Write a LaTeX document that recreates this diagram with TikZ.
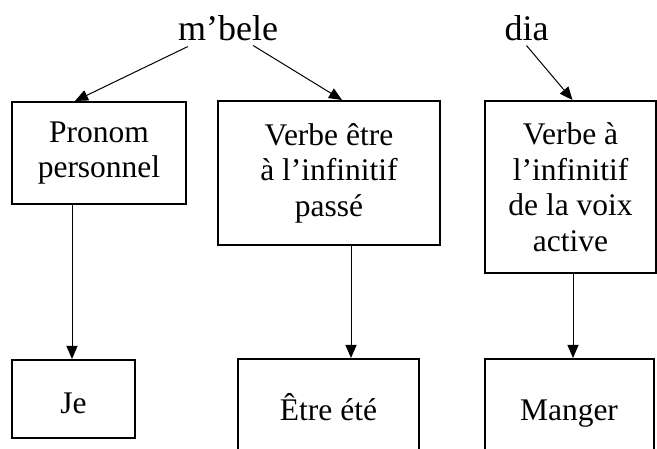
\documentclass[tikz,border=0pt]{standalone}
\usepackage{fontspec}
\setmainfont{Liberation Serif}
\usetikzlibrary{arrows.meta}
\begin{document}
\begin{tikzpicture}[x=1pt,y=-1pt,
 box/.style={draw,line width=2pt,align=center,inner sep=0pt,font=\fontsize{31.5}{35.5}\selectfont},
 single/.style={text height=29pt,text depth=0pt},
 word/.style={inner sep=0pt,font=\fontsize{36}{40}\selectfont},
 arr/.style={line width=1pt,-{Triangle[length=13pt,width=11pt]}}]
\useasboundingbox (0,0) rectangle (657,449);
\clip (0,0) rectangle (657,449);
\node[word,anchor=base] (mbele) at (228,41) {m’bele};
\node[word,anchor=base] (dia) at (526.5,41) {dia};
\node[box,minimum width=174pt,minimum height=102pt] (b1) at (99,153) {Pronom\\personnel};
\node[box,minimum width=222pt,minimum height=144pt] (b2) at (329,173) {Verbe être\\à l’infinitif\\passé};
\node[box,minimum width=171pt,minimum height=172pt] (b3) at (570.5,187) {Verbe à\\l’infinitif\\de la voix\\active};
\node[box,single,minimum width=123pt,minimum height=78pt] (c1) at (73.5,399) {Je};
\node[box,single,minimum width=181pt,minimum height=94pt] (c2) at (328.5,406) {Être été};
\node[box,single,minimum width=169pt,minimum height=94pt] (c3) at (569,406) {Manger};
\draw[arr] ([shift={(10,5)}]mbele.south west) -- ([xshift=-24pt]b1.north);
\draw[arr] ([shift={(-25,4)}]mbele.south east) -- ([xshift=13pt]b2.north);
\draw[arr] ([shift={(0,4)}]dia.south) -- ([xshift=2pt]b3.north);
\draw[arr] ([xshift=-27pt]b1.south) -- ([xshift=-27pt]b1.south |- c1.north);
\draw[arr] ([xshift=22pt]b2.south) -- ([xshift=22pt]b2.south |- c2.north);
\draw[arr] ([xshift=2.5pt]b3.south) -- ([xshift=2.5pt]b3.south |- c3.north);
\end{tikzpicture}
\end{document}
